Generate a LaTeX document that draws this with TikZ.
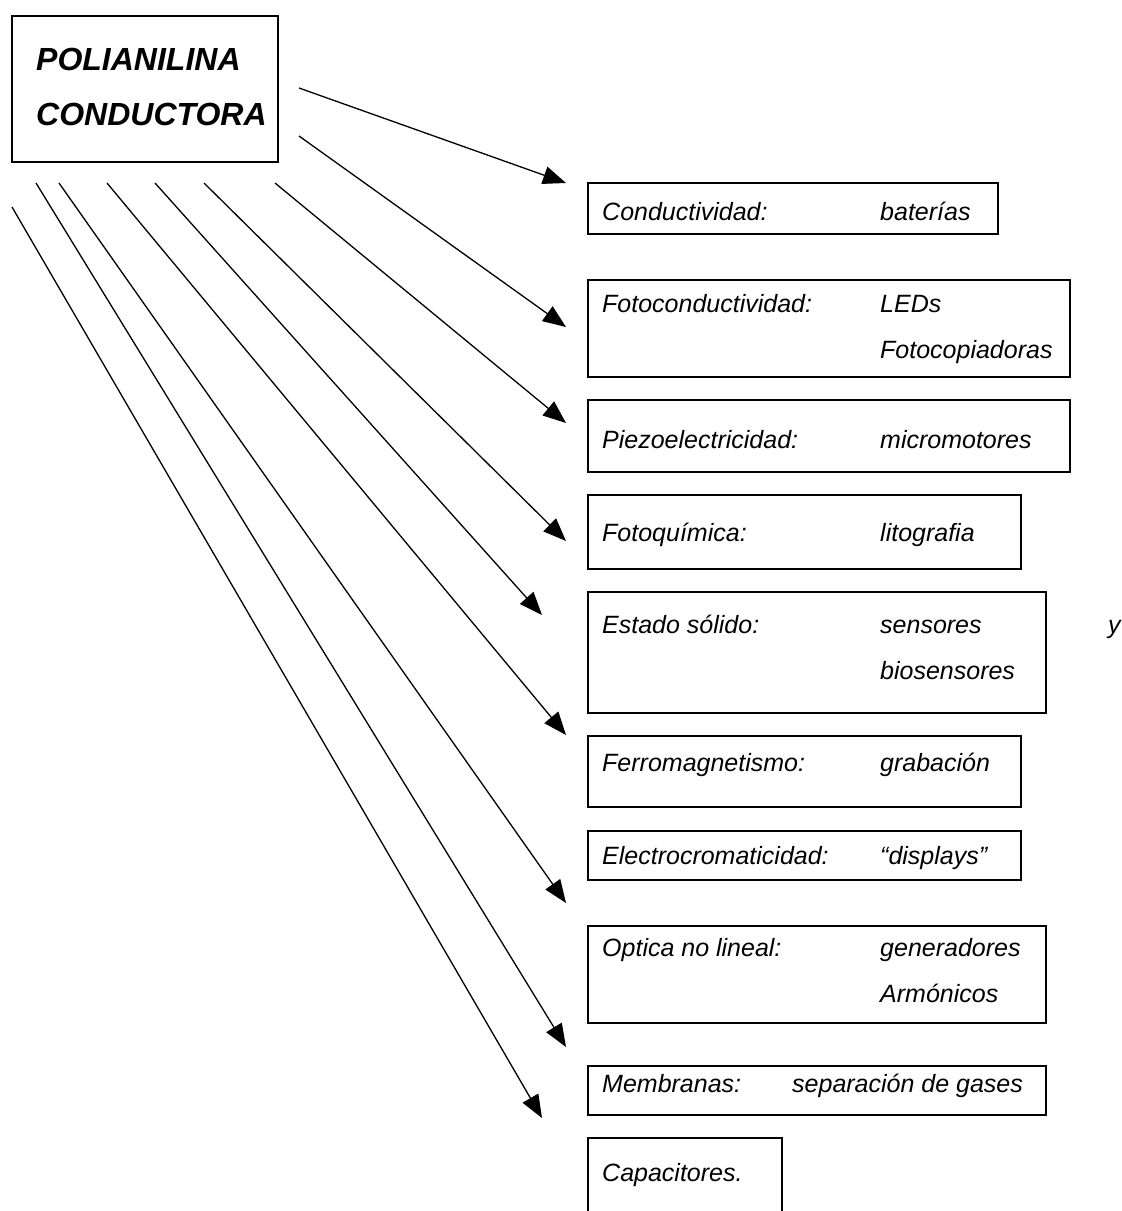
\documentclass[tikz,border=0pt]{standalone}
\usepackage{fontspec}
\setmainfont{Liberation Sans}
\usetikzlibrary{arrows.meta}
\begin{document}
\begin{tikzpicture}[x=1pt,y=-1pt,
  box/.style={draw, line width=1.7pt, inner sep=0pt, outer sep=0pt, anchor=north west},
  lbl/.style={anchor=base west, inner sep=0pt, font=\fontsize{25}{30}\selectfont\itshape},
  ttl/.style={anchor=base west, inner sep=0pt, font=\fontsize{32}{38}\selectfont\bfseries\itshape},
  arr/.style={line width=1.3pt, -{Triangle[length=23pt,width=18pt]}}]
\useasboundingbox (0,0) rectangle (1122,1211);
% main box
\node[box, minimum width=266pt, minimum height=146pt] (main) at (12,16) {};
\node[ttl] (t1) at (36,70) {POLIANILINA};
\node[ttl] (t2) at (36,125) {CONDUCTORA};
% application boxes
\node[box, minimum width=410pt, minimum height=51pt] (b1) at (588,183) {};
\node[box, minimum width=482pt, minimum height=97pt] (b2) at (588,280) {};
\node[box, minimum width=482pt, minimum height=72pt] (b3) at (588,400) {};
\node[box, minimum width=433pt, minimum height=74pt] (b4) at (588,495) {};
\node[box, minimum width=458pt, minimum height=121pt] (b5) at (588,592) {};
\node[box, minimum width=433pt, minimum height=71pt] (b6) at (588,736) {};
\node[box, minimum width=433pt, minimum height=49pt] (b7) at (588,831) {};
\node[box, minimum width=458pt, minimum height=97pt] (b8) at (588,926) {};
\node[box, minimum width=458pt, minimum height=49pt] (b9) at (588,1066) {};
\node[box, minimum width=194pt, minimum height=90pt] (b10) at (588,1138) {};
% texts
\node[lbl] (l1a) at (602,220) {Conductividad:};
\node[lbl] (l1b) at (880,220) {baterías};
\node[lbl] (l2a) at (602,312) {Fotoconductividad:};
\node[lbl] (l2b) at (880,312) {LEDs};
\node[lbl] (l2c) at (880,358) {Fotocopiadoras};
\node[lbl] (l3a) at (602,448) {Piezoelectricidad:};
\node[lbl] (l3b) at (880,448) {micromotores};
\node[lbl] (l4a) at (602,541) {Fotoquímica:};
\node[lbl] (l4b) at (880,541) {litografia};
\node[lbl] (l5a) at (602,633) {Estado sólido:};
\node[lbl] (l5b) at (880,633) {sensores};
\node[lbl] (l5y) at (1108,633) {y};
\node[lbl] (l5c) at (880,679) {biosensores};
\node[lbl] (l6a) at (602,771) {Ferromagnetismo:};
\node[lbl] (l6b) at (880,771) {grabación};
\node[lbl] (l7a) at (602,864) {Electrocromaticidad:};
\node[lbl] (l7b) at (880,864) {“displays”};
\node[lbl] (l8a) at (602,956) {Optica no lineal:};
\node[lbl] (l8b) at (880,956) {generadores};
\node[lbl] (l8c) at (880,1002) {Armónicos};
\node[lbl] (l9a) at (602,1092) {Membranas:};
\node[lbl] (l9b) at (792,1092) {separación de gases};
\node[lbl] (l10a) at (602,1181) {Capacitores.};
% arrow end points
\coordinate (s1) at (299,88);   \coordinate (e1) at (566,183);
\coordinate (s2) at (299,136);  \coordinate (e2) at (566,327);
\coordinate (s3) at (275,183);  \coordinate (e3) at (566,423);
\coordinate (s4) at (204,183);  \coordinate (e4) at (566,541);
\coordinate (s5) at (155,183);  \coordinate (e5) at (542,615);
\coordinate (s6) at (107,183);  \coordinate (e6) at (566,735);
\coordinate (s7) at (59,183);   \coordinate (e7) at (566,903);
\coordinate (s8) at (36,183);   \coordinate (e8) at (566,1047);
\coordinate (s9) at (12,207);   \coordinate (e9) at (542,1118);
\foreach \i in {1,...,9} {\draw[arr] (s\i) -- (e\i);}
\end{tikzpicture}
\end{document}
